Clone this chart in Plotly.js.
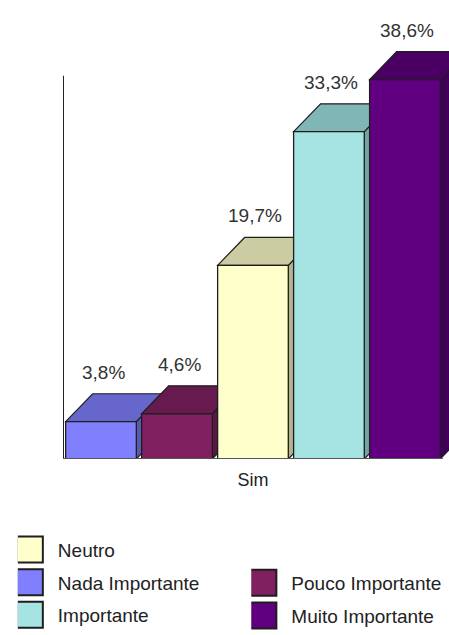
<!DOCTYPE html>
<html><head><meta charset="utf-8">
<script src="https://cdn.plot.ly/plotly-3.0.1.min.js"></script>
<style>html,body{margin:0;padding:0;background:#fff}</style>
</head><body><div id="chart" style="width:449px;height:635px"></div>
<script>
const categories = ['Nada Importante','Pouco Importante','Neutro','Importante','Muito Importante'];
const values = [3.8, 4.6, 19.7, 33.3, 38.6];
const axisLabels = ['Sim'];
const frontColors = ['#8080ff','#802060','#ffffcc','#a6e3e3','#600080'];
const topColors = ['#6666cc','#661a4d','#cccca3','#80b6b6','#4a0063'];
const sideColors = ['#5a5ab3','#5a1644','#b3b38f','#74a3a3','#40005a'];
const legendCol1 = ['Neutro','Nada Importante','Importante'];
const legendCol2 = ['Pouco Importante','Muito Importante'];
const axisTop = 39;

const FONT = 'Liberation Sans, Arial, sans-serif';
const EDGE = '#1e1e1e';
const W = 0.93, DX = 0.355, DY = 2.84;
const n = values.length;
const xs = values.map((_, i) => i);

const traces = [{
  type: 'bar', x: xs, y: values, width: W, showlegend: false, hoverinfo: 'skip',
  marker: {color: frontColors, line: {color: EDGE, width: 1.3}}
}];
categories.forEach((c, i) => {
  const inCol1 = legendCol1.indexOf(c) >= 0;
  traces.push({
    type: 'scatter', mode: 'markers', x: [null], y: [null], name: c,
    legend: inCol1 ? 'legend' : 'legend2', legendgroup: c,
    legendrank: (inCol1 ? legendCol1.indexOf(c) : legendCol2.indexOf(c)) + 1,
    marker: {symbol: 'square', size: 16, color: frontColors[i], line: {color: EDGE, width: 2}}
  });
});

const shapes = [];
values.forEach((v, i) => {
  const x0 = xs[i] - W / 2, x1 = xs[i] + W / 2;
  shapes.push({type: 'path', xref: 'x', yref: 'y', layer: 'below',
    path: `M${x1},0 L${x1 + DX},${DY} L${x1 + DX},${v + DY} L${x1},${v} Z`,
    fillcolor: sideColors[i], line: {color: EDGE, width: 1.2}});
  shapes.push({type: 'path', xref: 'x', yref: 'y', layer: 'below',
    path: `M${x0},${v} L${x0 + DX},${v + DY} L${x1 + DX},${v + DY} L${x1},${v} Z`,
    fillcolor: topColors[i], line: {color: EDGE, width: 1.2}});
});
shapes.push({type: 'line', xref: 'x', yref: 'y', x0: -0.5, x1: -0.5, y0: 0, y1: axisTop, line: {color: '#222', width: 2}});
shapes.push({type: 'line', xref: 'x', yref: 'y', x0: -0.5, x1: n - 0.5, y0: 0, y1: 0, line: {color: '#555', width: 2}});
shapes.push({type: 'line', xref: 'x', yref: 'y', x0: n - 0.5, x1: n - 0.5, ysizemode: 'pixel', yanchor: 0, y0: 0, y1: -16, line: {color: '#222', width: 2}});

const annotations = values.map((v, i) => ({
  x: xs[i] + 0.03, y: v + DY, xref: 'x', yref: 'y', showarrow: false,
  text: v.toFixed(1).replace('.', ',') + '%', yanchor: 'bottom', yshift: 9,
  font: {family: FONT, size: 19, color: '#333'}
}));

const legendFont = {family: FONT, size: 19, color: '#222'};
const layout = {
  width: 449, height: 635,
  margin: {l: 63, r: 0, t: 0, b: 175},
  paper_bgcolor: '#fff', plot_bgcolor: '#fff',
  xaxis: {range: [-0.5, 4.58], tickvals: [(n - 1) / 2], ticktext: axisLabels,
    showgrid: false, zeroline: false, showline: false, ticks: '', ticklabelstandoff: 8,
    tickfont: {family: FONT, size: 18, color: '#222'}, fixedrange: true},
  yaxis: {range: [0, 46.7], visible: false, fixedrange: true},
  shapes: shapes,
  annotations: annotations,
  showlegend: true,
  legend: {x: -0.117, xanchor: 'left', y: -0.1535, yanchor: 'top', orientation: 'v',
    traceorder: 'grouped', tracegroupgap: 5, bgcolor: 'rgba(0,0,0,0)', font: legendFont},
  legend2: {x: 0.488, xanchor: 'left', y: -0.2275, yanchor: 'top', orientation: 'v',
    traceorder: 'grouped', tracegroupgap: 5, bgcolor: 'rgba(0,0,0,0)', font: legendFont}
};

Plotly.newPlot('chart', traces, layout, {displayModeBar: false, staticPlot: true}).then(gd => {
  // enlarge legend swatches to match the reference's larger squares
  gd.querySelectorAll('.legendpoints path.scatterpts').forEach(p => {
    p.setAttribute('d', 'M13,13H-13V-13H13Z');
    p.setAttribute('transform', 'translate(12,0)');
  });
});
</script></body></html>
